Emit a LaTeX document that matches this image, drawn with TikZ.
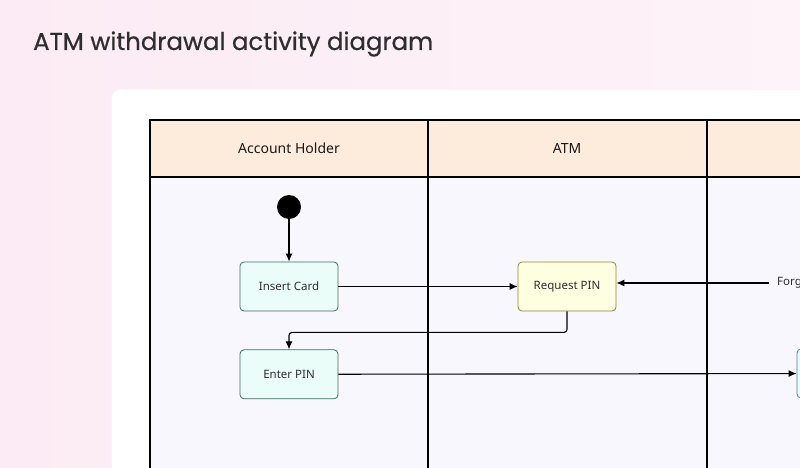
\documentclass[tikz,border=0pt]{standalone}
\usepackage{fontspec}
\setmainfont{Noto Sans}
\newfontfamily\titlefont[FakeBold=0.6]{Poppins}
\usetikzlibrary{positioning,arrows.meta}
\definecolor{bgpinkA}{HTML}{FCEBF4}
\definecolor{bgpinkB}{HTML}{FDF3F8}
\definecolor{headpeach}{HTML}{FDEBDC}
\definecolor{lanebody}{HTML}{F9F7FE}
\definecolor{mintfill}{HTML}{EBFDF8}
\definecolor{mintdraw}{HTML}{3D6E60}
\definecolor{yellowfill}{HTML}{FEFEE0}
\definecolor{yellowdraw}{HTML}{8A8A2E}
\definecolor{cyanfill}{HTML}{E6FAFC}
\definecolor{cyandraw}{HTML}{3F8A94}
\definecolor{inktext}{HTML}{2E2E2E}

\begin{document}
\begin{tikzpicture}[x=1pt, y=-1pt,
        act_node/.style={rectangle, rounded corners=4pt, line width=0.8pt, minimum width=98pt, minimum height=49pt, text=inktext, font=\fontsize{11.5}{13}\selectfont},
        holder_node/.style={act_node, draw=mintdraw, fill=mintfill},
        atm_node/.style={act_node, draw=yellowdraw, fill=yellowfill},
        bank_node/.style={act_node, draw=cyandraw, fill=cyanfill},
        start_node/.style={circle, fill=black, minimum size=24pt, inner sep=0pt},
        lane_line/.style={black, line width=1.3pt},
        lane_title/.style={text=black!90, font=\fontsize{14}{16}\selectfont},
        flow/.style={black, line width=1.1pt, rounded corners=3pt, -{Latex[length=8pt,width=7pt]}}
        ]
            \useasboundingbox (0,0) rectangle (800,468);
            \clip (0,0) rectangle (800,468);

            % Areas
            \shade[left color=bgpinkA, right color=bgpinkB] (0,0) rectangle (800,468);
            \fill[black!4, rounded corners=9pt] (111,89) rectangle (842,522);
            \fill[white, rounded corners=8pt] (112,90) rectangle (840,520);
            \fill[lanebody] (150,177) rectangle (900,520);
            \fill[headpeach] (150,120) rectangle (900,177);

            % lanes
            \draw[lane_line] (150,520) -- (150,120) -- (900,120);
            \draw[lane_line] (150,177) -- (900,177);
            \draw[lane_line] (428,120) -- (428,520);
            \draw[lane_line] (707,120) -- (707,520);
            \node[lane_title] (lane_holder) at (289,148) {Account Holder};
            \node[lane_title] (lane_atm)    at (567,148) {ATM};

            % title
            \node[anchor=west, inner sep=0pt, text=inktext, font=\titlefont\fontsize{24.4}{28}\selectfont] (title) at (33,44) {ATM withdrawal activity diagram};

            % activities
            \node[start_node]  (start)       at (289,207)                   {};
            \node[holder_node] (insert_card) at (289,286.5)                 {Insert Card};
            \node[atm_node]    (request_pin) at (567,286.5)                 {Request PIN};
            \node[holder_node] (enter_pin)   [below = 38pt of insert_card]  {Enter PIN};
            \node[bank_node]   (verify_pin)  at (846,373.5)                 {};
            \node[anchor=west, inner sep=8pt, text=inktext, font=\fontsize{11.5}{13}\selectfont] (forgot_pin) at (769,283) {Forgot PIN};

            % Lines
            \draw[flow] (start) -- (insert_card);
            \draw[flow] (insert_card) -- (request_pin);
            \draw[flow] (request_pin.south) -- ++(0,21) -| (enter_pin.north);
            \draw[flow] (enter_pin) -- (verify_pin);
            \draw[flow] (forgot_pin.west) -- (request_pin.east |- forgot_pin.west);
        \end{tikzpicture}
\end{document}
